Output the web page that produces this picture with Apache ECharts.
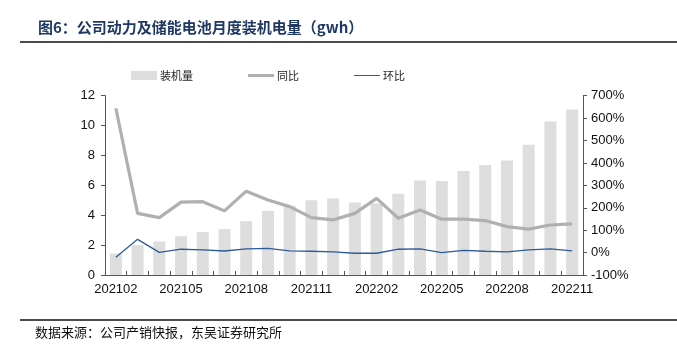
<!DOCTYPE html>
<html>
<head>
<meta charset="utf-8">
<script src="https://cdn.jsdelivr.net/npm/echarts@6/dist/echarts.min.js"></script>
<style>
  html, body { margin: 0; padding: 0; background: #fff; }
  #chart { width: 677px; height: 351px; }
</style>
</head>
<body>
<div id="chart"></div>
<script>
// 月份
const months = [
  '202102', '202103', '202104', '202105', '202106', '202107', '202108', '202109', '202110', '202111', '202112',
  '202201', '202202', '202203', '202204', '202205', '202206', '202207', '202208', '202209', '202210', '202211'
];
// 装机量 (gwh)
const installed = [1.44, 2.0, 2.24, 2.6, 2.87, 3.07, 3.6, 4.29, 4.64, 5.0, 5.12,
  4.86, 4.78, 5.44, 6.33, 6.29, 6.96, 7.36, 7.67, 8.71, 10.27, 11.07];
// 同比 (%)
const yoy = [644, 175, 156, 225, 227, 186, 274, 235, 205, 156, 146,
  175, 242, 153, 190, 149, 149, 143, 116, 105, 123, 128];
// 环比 (%)
const mom = [-21, 59, 1, 15, 12, 7, 17, 19, 8, 6, 3,
  -3, -3, 15, 17, 0, 10, 6, 3, 12, 17, 8];

const cjk = '"Noto Sans CJK SC", sans-serif';
const latin = '"Liberation Sans", Arial, sans-serif';

const chart = echarts.init(document.getElementById('chart'));

const option = {
  backgroundColor: '#fff',
  animation: false,
  title: {
    text: '图6：公司动力及储能电池月度装机电量（gwh）',
    left: 33,
    top: 15,
    textStyle: { fontFamily: cjk, fontSize: 15, fontWeight: 'bold', color: '#1f3864' }
  },
  graphic: [
    { type: 'line', shape: { x1: 20, y1: 42, x2: 677, y2: 42 }, style: { stroke: '#111', lineWidth: 1.5 } },
    { type: 'line', shape: { x1: 20, y1: 320, x2: 677, y2: 320 }, style: { stroke: '#111', lineWidth: 1.5 } },
    {
      type: 'text', left: 35, top: 326,
      style: { text: '数据来源：公司产销快报，东吴证券研究所', font: '13px ' + cjk, fill: '#111' }
    }
  ],
  legend: {
    top: 65,
    left: 126,
    itemGap: 55,
    itemWidth: 26,
    itemHeight: 9,
    textStyle: { fontFamily: cjk, fontSize: 11, color: '#222', padding: [0, 0, 0, -2] },
    data: [
      { name: '装机量', icon: 'rect' },
      { name: '同比', icon: 'path://M0,0 L26,0 L26,3 L0,3 Z' },
      { name: '环比', icon: 'path://M0,0 L26,0 L26,1 L0,1 Z' }
    ]
  },
  grid: { left: 105, right: 94, top: 95.7, bottom: 76 },
  xAxis: {
    type: 'category',
    data: months,
    boundaryGap: true,
    axisLine: { lineStyle: { color: '#555' } },
    axisTick: { show: true, inside: true, length: 4, interval: 0, lineStyle: { color: '#555' } },
    axisLabel: { interval: 2, fontFamily: latin, fontSize: 13, color: '#111', margin: 8 }
  },
  yAxis: [
    {
      type: 'value', min: 0, max: 12, interval: 2,
      axisLine: { show: true, lineStyle: { color: '#555' } },
      axisTick: { show: true, length: 4, lineStyle: { color: '#555' } },
      splitLine: { show: false },
      axisLabel: { fontFamily: latin, fontSize: 13, color: '#111', margin: 10 }
    },
    {
      type: 'value', min: -100, max: 700, interval: 100,
      axisLine: { show: true, lineStyle: { color: '#555' } },
      axisTick: { show: true, length: 4, lineStyle: { color: '#555' } },
      splitLine: { show: false },
      axisLabel: { fontFamily: latin, fontSize: 13, color: '#111', margin: 8, formatter: '{value}%' }
    }
  ],
  series: [
    {
      name: '装机量', type: 'bar', data: installed, barWidth: 12,
      itemStyle: { color: '#dedede' }
    },
    {
      name: '同比', type: 'line', yAxisIndex: 1, data: yoy,
      symbol: 'none', itemStyle: { color: '#b0b0b0' },
      lineStyle: { color: '#b0b0b0', width: 3.2 }
    },
    {
      name: '环比', type: 'line', yAxisIndex: 1, data: mom,
      symbol: 'none', itemStyle: { color: '#2e5b9a' },
      lineStyle: { color: '#2e5b9a', width: 1.3 }
    }
  ]
};

chart.setOption(option);
</script>
</body>
</html>
